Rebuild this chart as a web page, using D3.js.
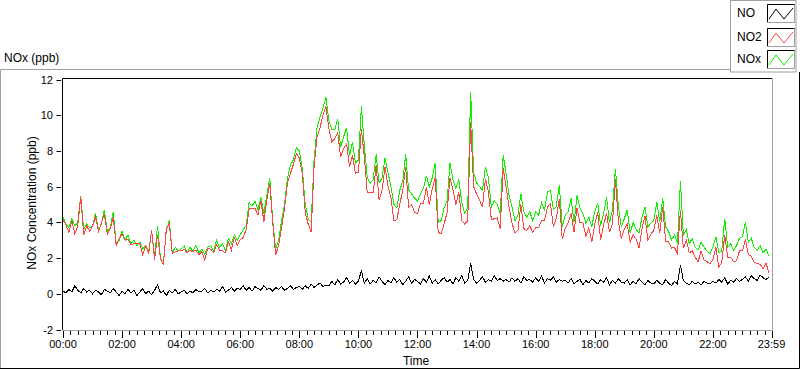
<!DOCTYPE html>
<html lang="en">
<head>
  <meta charset="UTF-8">
  <title>NOx (ppb)</title>
  <style>
    body { margin: 0; background: #fff; }
    svg { display: block; font-family: "Liberation Sans", Arial, sans-serif; }
  </style>
</head>
<body>
  <svg width="800" height="369"></svg>

  <script src="https://d3js.org/d3.v7.min.js"></script>
  <script>
    // minutes after midnight, one sample every 6 minutes
    const minutes = d3.range(0, 1440, 6);

    // one row per hour (10 samples)
    const noValues = [
      0.15, 0.05, 0.25, 0.1, 0.45, 0.2, 0.05, 0.3, 0.1, 0.2,
      0.0, 0.2, 0.1, -0.05, 0.25, 0.15, 0.05, 0.3, 0.1, -0.1,
      0.15, 0.0, 0.25, 0.05, 0.2, -0.1, 0.1, 0.3, 0.0, 0.15,
      -0.05, 0.2, 0.5, 0.05, 0.15, -0.1, 0.2, 0.05, 0.25, 0.0,
      0.1, 0.2, 0.0, 0.15, 0.05, 0.25, 0.1, 0.15, 0.3, 0.05,
      0.2, 0.1, 0.25, 0.15, 0.4, 0.1, 0.2, 0.35, 0.15, 0.3,
      0.25, 0.45, 0.2, 0.35, 0.15, 0.4, 0.3, 0.2, 0.45, 0.25,
      0.3, 0.15, 0.35, 0.25, 0.4, 0.2, 0.3, 0.45, 0.25, 0.35,
      0.4, 0.25, 0.45, 0.3, 0.55, 0.35, 0.5, 0.6, 0.4, 0.5,
      0.45, 0.7, 0.5, 0.8, 0.55, 0.65, 0.9, 0.6, 0.75, 0.55,
      0.7, 1.3, 0.6, 0.85, 0.55, 0.75, 0.6, 0.95, 0.7, 0.5,
      0.75, 0.6, 0.9, 0.65, 0.8, 0.5, 0.7, 0.95, 0.6, 0.8,
      0.7, 0.55, 0.85, 0.65, 1.0, 0.6, 0.8, 0.55, 0.75, 0.9,
      0.65, 0.8, 0.55, 0.9, 0.7, 1.0, 0.6, 0.75, 1.7, 0.8,
      0.6, 0.75, 0.95, 0.65, 0.8, 0.7, 1.0, 0.75, 0.85, 0.7,
      0.8, 0.65, 0.9, 0.7, 0.85, 0.6, 0.95, 0.75, 0.8, 0.65,
      0.9, 0.7, 1.0, 0.6, 0.85, 0.75, 0.95, 0.65, 0.8, 0.7,
      0.75, 0.6, 0.85, 0.55, 0.7, 0.8, 0.5, 0.75, 0.6, 0.85,
      0.7, 0.55, 0.8, 0.65, 0.9, 0.5, 0.75, 0.6, 0.85, 0.65,
      0.6, 0.8, 0.5, 0.7, 0.55, 0.85, 0.65, 0.5, 0.75, 0.6,
      0.55, 0.75, 0.6, 0.5, 0.8, 0.6, 0.45, 0.7, 0.55, 1.6,
      0.75, 0.6, 0.5, 0.7, 0.55, 0.65, 0.5, 0.7, 0.6, 0.55,
      0.7, 0.6, 0.8, 0.65, 0.9, 0.55, 0.75, 0.65, 0.85, 0.7,
      0.8, 0.95, 0.7, 1.0, 0.85, 0.75, 1.05, 0.9, 0.8, 0.95
    ];

    const no2Values = [
      4.15, 3.85, 3.45, 4.1, 3.35, 3.8, 5.45, 3.3, 3.8, 3.5,
      3.8, 4.3, 3.5, 3.95, 4.45, 3.35, 3.65, 4.3, 2.7, 3.1,
      3.35, 3.0, 3.05, 2.75, 2.8, 2.8, 2.8, 2.2, 2.7, 2.25,
      3.55, 1.9, 3.3, 1.95, 1.65, 3.7, 3.9, 2.25, 2.35, 2.4,
      2.4, 2.5, 2.3, 2.45, 2.35, 2.45, 2.2, 2.35, 1.9, 2.55,
      2.5, 2.3, 2.75, 2.45, 2.4, 2.3, 2.9, 2.45, 3.15, 2.7,
      3.05, 3.15, 3.6, 4.75, 4.75, 4.8, 4.4, 5.2, 4.05, 5.25,
      6.2, 3.95, 2.15, 2.75, 3.7, 4.8, 6.2, 6.75, 7.25, 7.85,
      7.6, 6.75, 4.55, 3.9, 3.45, 7.15, 8.8, 9.3, 10.0, 10.5,
      9.25, 8.5, 8.7, 9.0, 7.65, 8.15, 8.4, 7.1, 7.75, 6.75,
      6.8, 9.2, 7.7, 5.65, 5.65, 5.65, 7.2, 5.25, 5.8, 7.1,
      6.05, 5.4, 4.1, 4.15, 5.0, 5.8, 7.1, 4.85, 5.0, 4.55,
      4.5, 5.05, 5.05, 5.95, 5.0, 5.9, 6.5, 3.45, 3.35, 3.9,
      4.55, 6.5, 5.85, 5.0, 5.7, 4.1, 3.9, 4.1, 9.6, 6.0,
      5.6, 5.25, 4.85, 6.45, 5.7, 4.15, 4.2, 4.25, 3.65, 7.05,
      5.95, 4.85, 3.95, 3.4, 3.55, 5.0, 3.65, 3.55, 3.8, 3.45,
      3.7, 3.7, 4.1, 4.1, 4.85, 5.05, 3.75, 4.25, 5.3, 3.05,
      3.65, 4.0, 4.5, 3.45, 4.8, 4.0, 4.0, 3.2, 3.7, 2.9,
      3.9, 4.55, 3.0, 3.85, 4.5, 3.45, 3.95, 6.4, 4.05, 3.1,
      3.6, 3.9, 2.9, 3.3, 3.05, 2.55, 3.65, 4.35, 3.0, 3.35,
      3.55, 4.4, 3.4, 4.85, 2.95, 2.9, 2.55, 2.6, 2.25, 4.7,
      2.55, 3.0, 2.3, 2.4, 2.05, 1.8, 2.4, 1.9, 1.8, 1.7,
      1.9, 2.6, 1.5, 1.75, 3.3, 2.05, 2.05, 1.8, 1.85, 2.4,
      2.4, 3.05, 2.2, 2.1, 1.75, 1.7, 1.65, 1.4, 1.7, 1.15
    ];

    const noxValues = [
      4.3, 3.9, 3.7, 4.2, 3.8, 4.0, 5.5, 3.6, 3.9, 3.7,
      3.8, 4.5, 3.6, 3.9, 4.7, 3.5, 3.7, 4.6, 2.8, 3.0,
      3.5, 3.0, 3.3, 2.8, 3.0, 2.7, 2.9, 2.5, 2.7, 2.4,
      3.5, 2.1, 3.8, 2.0, 1.8, 3.6, 4.1, 2.3, 2.6, 2.4,
      2.5, 2.7, 2.3, 2.6, 2.4, 2.7, 2.3, 2.5, 2.2, 2.6,
      2.7, 2.4, 3.0, 2.6, 2.8, 2.4, 3.1, 2.8, 3.3, 3.0,
      3.3, 3.6, 3.8, 5.1, 4.9, 5.2, 4.7, 5.4, 4.5, 5.5,
      6.5, 4.1, 2.5, 3.0, 4.1, 5.0, 6.5, 7.2, 7.5, 8.2,
      8.0, 7.0, 5.0, 4.2, 4.0, 7.5, 9.3, 9.9, 10.4, 11.0,
      9.7, 9.2, 9.2, 9.8, 8.2, 8.8, 9.3, 7.7, 8.5, 7.3,
      7.5, 10.5, 8.3, 6.5, 6.2, 6.4, 7.8, 6.2, 6.5, 7.6,
      6.8, 6.0, 5.0, 4.8, 5.8, 6.3, 7.8, 5.8, 5.6, 5.35,
      5.2, 5.6, 5.9, 6.6, 6.0, 6.5, 7.3, 4.0, 4.1, 4.8,
      5.2, 7.3, 6.4, 5.9, 6.4, 5.1, 4.5, 4.85, 11.3, 6.8,
      6.2, 6.0, 5.8, 7.1, 6.5, 4.85, 5.2, 5.0, 4.5, 7.75,
      6.75, 5.5, 4.85, 4.1, 4.4, 5.6, 4.6, 4.3, 4.6, 4.1,
      4.6, 4.4, 5.1, 4.7, 5.7, 5.8, 4.7, 4.9, 6.1, 3.75,
      4.4, 4.6, 5.35, 4.0, 5.5, 4.8, 4.5, 3.95, 4.3, 3.75,
      4.6, 5.1, 3.8, 4.5, 5.4, 3.95, 4.7, 7.0, 4.9, 3.75,
      4.2, 4.7, 3.4, 4.0, 3.6, 3.4, 4.3, 4.85, 3.75, 3.95,
      4.1, 5.15, 4.0, 5.35, 3.75, 3.5, 3.0, 3.3, 2.8, 6.3,
      3.3, 3.6, 2.8, 3.1, 2.6, 2.45, 2.9, 2.6, 2.4, 2.25,
      2.6, 3.2, 2.3, 2.4, 4.2, 2.6, 2.8, 2.45, 2.7, 3.1,
      3.2, 4.0, 2.9, 3.1, 2.6, 2.45, 2.7, 2.3, 2.5, 2.1
    ];

    const yTicks = [-2, 0, 2, 4, 6, 8, 10, 12];
    const xMajorTicks = [0, 120, 240, 360, 480, 600, 720, 840, 960, 1080, 1200, 1320, 1439];
    const xTickLabels = ["00:00", "02:00", "04:00", "06:00", "08:00", "10:00", "12:00",
                         "14:00", "16:00", "18:00", "20:00", "22:00", "23:59"];
    const seriesNames = ["NO", "NO2", "NOx"];
    const seriesColors = ["#000000", "#ff4444", "#11ee00"];

    const svg = d3.select("svg");
    const x = d3.scaleLinear().domain([0, 1439]).range([63, 771.5]);
    const y = d3.scaleLinear().domain([-2, 12]).range([329.5, 79.5]);

    // outer panel (sunken 3D frame)
    svg.append("path").attr("d", "M0.5,368 V69.5 H730").attr("fill", "none").attr("stroke", "#a0a0a0");
    svg.append("path").attr("d", "M0,368.5 H799.5 V72").attr("fill", "none").attr("stroke", "#000");

    svg.append("text").attr("x", 4).attr("y", 62).attr("font-size", "12px").text("NOx (ppb)");

    // plot frame
    svg.append("rect").attr("x", 62).attr("y", 78).attr("width", 710.5).attr("height", 252).attr("fill", "#fff");
    svg.append("path").attr("d", "M62.5,330 V78.5 H772").attr("fill", "none").attr("stroke", "#000");
    svg.append("path").attr("d", "M62.5,330.5 H772.5 V78.5").attr("fill", "none").attr("stroke", "#a0a0a0");

    // y axis
    const yAxis = svg.append("g");
    yTicks.forEach(v => {
      yAxis.append("line").attr("x1", 56.5).attr("x2", 61).attr("y1", Math.round(y(v)) + 0.5).attr("y2", Math.round(y(v)) + 0.5)
        .attr("stroke", "#000");
      yAxis.append("text").attr("x", 53).attr("y", Math.round(y(v)) + 4).attr("text-anchor", "end")
        .attr("font-size", "11px").text(v);
    });
    svg.append("text").attr("transform", "translate(36,203) rotate(-90)").attr("text-anchor", "middle")
      .attr("font-size", "12px").text("NOx Concentration (ppb)");

    // x axis: minor ticks every 15 min, labelled majors every 2 h
    const xAxis = svg.append("g");
    d3.range(0, 1440, 15).forEach(m => {
      if (m % 120 === 0) return;
      xAxis.append("line").attr("x1", Math.round(x(m)) + 0.5).attr("x2", Math.round(x(m)) + 0.5)
        .attr("y1", 331).attr("y2", 335).attr("stroke", "#000");
    });
    xMajorTicks.forEach((m, i) => {
      xAxis.append("line").attr("x1", Math.round(x(m)) + 0.5).attr("x2", Math.round(x(m)) + 0.5)
        .attr("y1", 331).attr("y2", 338).attr("stroke", "#000");
      xAxis.append("text").attr("x", x(m)).attr("y", 348).attr("text-anchor", "middle")
        .attr("font-size", "11px").text(xTickLabels[i]);
    });
    svg.append("text").attr("x", 416).attr("y", 365).attr("text-anchor", "middle")
      .attr("font-size", "12px").text("Time");

    // data
    svg.append("clipPath").attr("id", "plot-clip")
      .append("rect").attr("x", 63).attr("y", 79).attr("width", 709).attr("height", 251);
    const plot = svg.append("g").attr("clip-path", "url(#plot-clip)");

    const line = d3.line()
      .x((d, i) => x(minutes[i]))
      .y(d => y(d))
      .curve(d3.curveLinear);

    const seriesValues = [noValues, no2Values, noxValues];
    [0, 2, 1].forEach(k => {
      plot.append("path")
        .datum(seriesValues[k])
        .attr("fill", "none")
        .attr("stroke", seriesColors[k])
        .attr("stroke-width", 1)
        .attr("shape-rendering", "crispEdges")
        .attr("d", line);
    });

    // legend
    svg.append("rect").attr("x", 730.5).attr("y", 0.5).attr("width", 65.5).attr("height", 71.5)
      .attr("fill", "#fff").attr("stroke", "#a0a0a0");
    const rowsY = [4, 28, 50];
    seriesNames.forEach((name, i) => {
      const g = svg.append("g").attr("transform", `translate(767,${rowsY[i]})`);
      g.append("text").attr("x", -30).attr("y", 13).attr("font-size", "12px").text(name);
      g.append("rect").attr("x", 0.5).attr("y", 0.5).attr("width", 27).attr("height", 18)
        .attr("fill", "#fff").attr("stroke", "#a0a0a0");
      g.append("path").attr("d", "M0.5,18 V0.5 H27.5").attr("fill", "none").attr("stroke", "#000");
      g.append("path").attr("d", "M2,15 L9,5 L17,15 L26,4").attr("fill", "none")
        .attr("stroke", seriesColors[i]).attr("stroke-width", 1);
    });
  </script>
</body>
</html>
